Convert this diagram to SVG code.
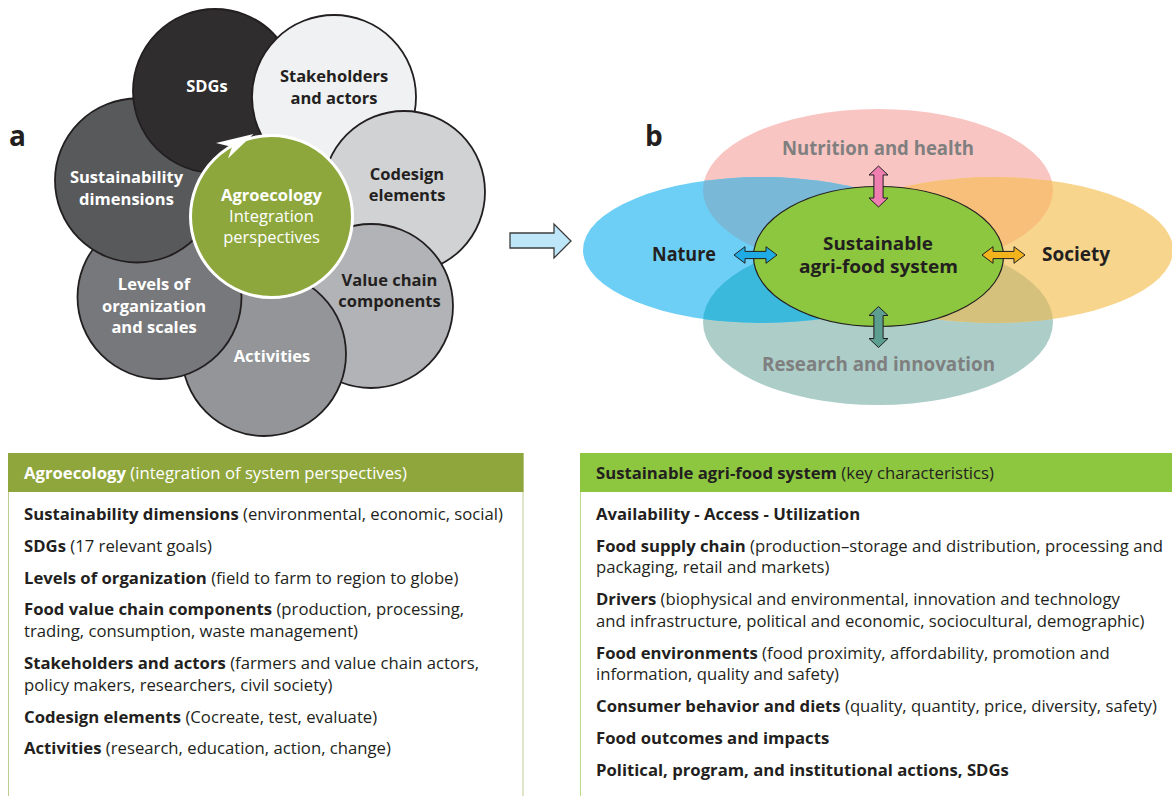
<svg xmlns="http://www.w3.org/2000/svg" xmlns:xlink="http://www.w3.org/1999/xlink" width="1172" height="796" viewBox="0 0 1172 796">
  <style>
    .lbl { font-family: "Open Sans", "Noto Sans", "Liberation Sans", sans-serif; font-weight: 700; font-size: 16.5px; text-anchor: middle; }
    .lbl.reg { font-weight: 400; }
    .w { fill: #ffffff; }
    .d { fill: #231f20; }
    .ring { stroke: #231f20; stroke-width: 1.8; }
    .panel { font-family: "Open Sans", "Noto Sans", "Liberation Sans", sans-serif; font-weight: 700; font-size: 28px; fill: #231f20; }
    .blbl { font-family: "Open Sans", "Noto Sans", "Liberation Sans", sans-serif; font-weight: 700; font-size: 19px; text-anchor: middle; }
    .blbl.sm { font-size: 17.5px; }
    .gray { fill: #7f7f7f; }
    .tx { font-family: "Open Sans", "Noto Sans", "Liberation Sans", sans-serif; font-size: 16.7px; fill: #231f20; }
    .tx tspan.b, .hd tspan.b { font-weight: 700; }
    .hd { font-family: "Open Sans", "Noto Sans", "Liberation Sans", sans-serif; font-size: 16.7px; }
    .dbl { stroke: #231f20; stroke-width: 1; stroke-linejoin: miter; }
  </style>
  <defs>
    <circle id="cSDG" cx="215" cy="91" r="82"/>
    <clipPath id="clipSust"><circle cx="137" cy="180.5" r="83.5"/></clipPath>
    <ellipse id="eNut" cx="878" cy="190" rx="175" ry="81"/>
    <ellipse id="eRes" cx="878" cy="322" rx="175" ry="83"/>
    <ellipse id="eNat" cx="762" cy="250" rx="179" ry="73"/>
    <ellipse id="eSoc" cx="994" cy="250" rx="179" ry="73"/>
    <clipPath id="clipNut"><use xlink:href="#eNut"/></clipPath>
    <clipPath id="clipRes"><use xlink:href="#eRes"/></clipPath>
    <path id="arrV" d="M0,-20.5 L9.5,-11.5 L4.6,-11.5 L4.6,11.5 L9.5,11.5 L0,20.5 L-9.5,11.5 L-4.6,11.5 L-4.6,-11.5 L-9.5,-11.5 Z"/>
    <path id="arrH" d="M-21.5,0 L-10.5,-8.3 L-10.5,-3.6 L10.5,-3.6 L10.5,-8.3 L21.5,0 L10.5,8.3 L10.5,3.6 L-10.5,3.6 L-10.5,8.3 Z"/>
  </defs>

  <rect width="1172" height="796" fill="#ffffff"/>

  <!-- panel a: ring of perspectives around agroecology -->
  <text class="panel" x="9" y="146">a</text>

  <g id="node-sdgs">
    <use xlink:href="#cSDG" class="ring" fill="#2f2d2e"/>
    <text class="lbl w" x="207" y="92">SDGs</text>
  </g>
  <g id="node-stakeholders">
    <circle class="ring" cx="334" cy="97" r="82" fill="#f0f1f2"/>
    <text class="lbl d" x="334" y="82">Stakeholders</text>
    <text class="lbl d" x="334" y="104">and actors</text>
  </g>
  <g id="node-codesign">
    <circle class="ring" cx="404" cy="192" r="81" fill="#d1d2d4"/>
    <text class="lbl d" x="407" y="180">Codesign</text>
    <text class="lbl d" x="407" y="201">elements</text>
  </g>
  <g id="node-valuechain">
    <circle class="ring" cx="371" cy="306" r="82" fill="#b1b3b6"/>
    <text class="lbl d" x="389.5" y="286">Value chain</text>
    <text class="lbl d" x="389.5" y="307">components</text>
  </g>
  <g id="node-activities">
    <circle class="ring" cx="264" cy="354" r="82" fill="#939598"/>
    <text class="lbl w" x="272" y="362">Activities</text>
  </g>
  <g id="node-levels">
    <circle class="ring" cx="159.5" cy="297" r="82" fill="#77787b"/>
    <text class="lbl w" x="154" y="290">Levels of</text>
    <text class="lbl w" x="154" y="312">organization</text>
    <text class="lbl w" x="154" y="333">and scales</text>
  </g>
  <g id="node-sustainability">
    <circle class="ring" cx="137" cy="180.5" r="82" fill="#58595b"/>
    <!-- the SDGs disc overlaps this one, closing the ring -->
    <use xlink:href="#cSDG" class="ring" fill="#2f2d2e" clip-path="url(#clipSust)"/>
    <text class="lbl w" x="126.5" y="183">Sustainability</text>
    <text class="lbl w" x="126.5" y="205">dimensions</text>
  </g>
  <g id="node-agroecology">
    <circle cx="271.5" cy="216.5" r="81" fill="#8da73c" stroke="#ffffff" stroke-width="3"/>
    <polygon points="216,143 253.5,134 228,158.5 232,147" fill="#ffffff"/>
    <text class="lbl w" x="271.5" y="201">Agroecology</text>
    <text class="lbl reg w" x="271.5" y="222">Integration</text>
    <text class="lbl reg w" x="271.5" y="243">perspectives</text>
  </g>

  <!-- panel b: overlapping domains around the agri-food system -->
  <text class="panel" x="645" y="146">b</text>

  <g id="node-nutrition">
    <use xlink:href="#eNut" fill="#f8c5c2"/>
    <text class="blbl gray" x="878" y="155" textLength="192" lengthAdjust="spacingAndGlyphs">Nutrition and health</text>
  </g>
  <g id="node-research">
    <use xlink:href="#eRes" fill="#accdc8"/>
    <text class="blbl gray" x="878.5" y="371" textLength="233" lengthAdjust="spacingAndGlyphs">Research and innovation</text>
  </g>
  <g id="node-nature">
    <use xlink:href="#eNat" fill="#6dcff6"/>
    <use xlink:href="#eNat" fill="#79b8d7" clip-path="url(#clipNut)"/>
    <use xlink:href="#eNat" fill="#3bb9dc" clip-path="url(#clipRes)"/>
    <text class="blbl d" x="684" y="261" textLength="64" lengthAdjust="spacingAndGlyphs">Nature</text>
  </g>
  <g id="node-society">
    <use xlink:href="#eSoc" fill="#f8d58d"/>
    <use xlink:href="#eSoc" fill="#f7bf7a" clip-path="url(#clipNut)"/>
    <use xlink:href="#eSoc" fill="#d5c17b" clip-path="url(#clipRes)"/>
    <text class="blbl d" x="1076" y="261" textLength="68" lengthAdjust="spacingAndGlyphs">Society</text>
  </g>
  <g id="node-agrifood">
    <ellipse cx="878.5" cy="256.5" rx="125" ry="70" fill="#8dc63f" stroke="#231f20" stroke-width="1.2"/>
    <text class="blbl sm d" x="878" y="250" textLength="110" lengthAdjust="spacingAndGlyphs">Sustainable</text>
    <text class="blbl sm d" x="878.5" y="273" textLength="159" lengthAdjust="spacingAndGlyphs">agri-food system</text>
  </g>

  <!-- connectors -->
  <g id="connectors">
    <path d="M510,233 L554,233 L554,224 L571,241 L554,258 L554,248 L510,248 Z" fill="#bde6f9" stroke="#3c3c3c" stroke-width="1.3" stroke-linejoin="miter"/>
    <use xlink:href="#arrV" class="dbl" fill="#ef7fb1" transform="translate(878.5,186.5)"/>
    <use xlink:href="#arrV" class="dbl" fill="#5c9e90" transform="translate(878.5,327)"/>
    <use xlink:href="#arrH" class="dbl" fill="#1fabe3" transform="translate(755.5,255)"/>
    <use xlink:href="#arrH" class="dbl" fill="#f2b31c" transform="translate(1003.5,255)"/>
  </g>

  <!-- table: agroecology -->
  <g id="node-table-agroecology">
    <rect x="8.5" y="453.5" width="514.5" height="360" fill="#ffffff" stroke="#bccd92" stroke-width="1"/>
    <rect x="8" y="453" width="515.5" height="39" fill="#8fa63c"/>
    <text class="hd" x="24" y="479" fill="#ffffff"><tspan class="b">Agroecology</tspan> (integration of system perspectives)</text>
    <text class="tx" x="24" y="520"><tspan class="b">Sustainability dimensions</tspan> (environmental, economic, social)</text>
    <text class="tx" x="24" y="552"><tspan class="b">SDGs</tspan> (17 relevant goals)</text>
    <text class="tx" x="24" y="584"><tspan class="b">Levels of organization</tspan> (field to farm to region to globe)</text>
    <text class="tx" x="24" y="615"><tspan class="b">Food value chain components</tspan> (production, processing,</text>
    <text class="tx" x="24" y="637">trading, consumption, waste management)</text>
    <text class="tx" x="24" y="669"><tspan class="b">Stakeholders and actors</tspan> (farmers and value chain actors,</text>
    <text class="tx" x="24" y="691">policy makers, researchers, civil society)</text>
    <text class="tx" x="24" y="723"><tspan class="b">Codesign elements</tspan> (Cocreate, test, evaluate)</text>
    <text class="tx" x="24" y="754"><tspan class="b">Activities</tspan> (research, education, action, change)</text>
  </g>

  <!-- table: sustainable agri-food system -->
  <g id="node-table-agrifood">
    <rect x="580.5" y="453.5" width="600" height="360" fill="#ffffff" stroke="#b8dc8a" stroke-width="1"/>
    <rect x="580" y="453" width="600" height="39" fill="#8dc63f"/>
    <text class="hd" x="596" y="479" fill="#231f20"><tspan class="b">Sustainable agri-food system</tspan> (key characteristics)</text>
    <text class="tx" x="596" y="520"><tspan class="b">Availability - Access - Utilization</tspan></text>
    <text class="tx" x="596" y="552"><tspan class="b">Food supply chain</tspan> (production–storage and distribution, processing and</text>
    <text class="tx" x="596" y="573">packaging, retail and markets)</text>
    <text class="tx" x="596" y="605"><tspan class="b">Drivers</tspan> (biophysical and environmental, innovation and technology</text>
    <text class="tx" x="596" y="627">and infrastructure, political and economic, sociocultural, demographic)</text>
    <text class="tx" x="596" y="659"><tspan class="b">Food environments</tspan> (food proximity, affordability, promotion and</text>
    <text class="tx" x="596" y="680">information, quality and safety)</text>
    <text class="tx" x="596" y="712"><tspan class="b">Consumer behavior and diets</tspan> (quality, quantity, price, diversity, safety)</text>
    <text class="tx" x="596" y="744"><tspan class="b">Food outcomes and impacts</tspan></text>
    <text class="tx" x="596" y="776"><tspan class="b">Political, program, and institutional actions, SDGs</tspan></text>
  </g>
</svg>
